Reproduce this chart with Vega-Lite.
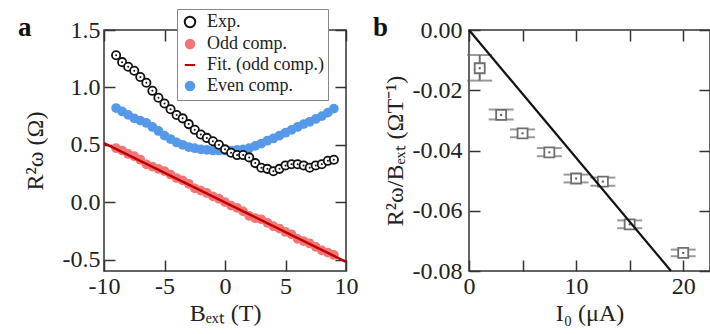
{
  "$schema": "https://vega.github.io/schema/vega-lite/v6.json",
  "padding": {"left": 17, "top": 8, "right": 0, "bottom": 0},
  "spacing": 123,
  "bounds": "flush",
  "config": {
    "view": {"stroke": "#333", "strokeWidth": 1.5},
    "axis": {"domain": false, "grid": false, "tickColor": "#333", "tickSize": -11, "tickWidth": 1.5,
      "labelFont": "Liberation Serif", "labelFontSize": 24, "labelColor": "#222", "labelPadding": 15,
      "titleFont": "Liberation Serif", "titleFontSize": 24, "titleFontWeight": "normal", "titleColor": "#222",
      "labelFlush": false, "labelOverlap": false}
  },
  "datasets": {
    "panelA": [
      {"B": -9, "series": "Exp.", "R": 1.28}, {"B": -8.5, "series": "Exp.", "R": 1.22}, {"B": -8, "series": "Exp.", "R": 1.18},
      {"B": -7.5, "series": "Exp.", "R": 1.145}, {"B": -7, "series": "Exp.", "R": 1.09}, {"B": -6.5, "series": "Exp.", "R": 1.04},
      {"B": -6, "series": "Exp.", "R": 0.97}, {"B": -5.5, "series": "Exp.", "R": 0.91}, {"B": -5, "series": "Exp.", "R": 0.86},
      {"B": -4.5, "series": "Exp.", "R": 0.81}, {"B": -4, "series": "Exp.", "R": 0.76}, {"B": -3.5, "series": "Exp.", "R": 0.73},
      {"B": -3, "series": "Exp.", "R": 0.68}, {"B": -2.5, "series": "Exp.", "R": 0.63}, {"B": -2, "series": "Exp.", "R": 0.59},
      {"B": -1.5, "series": "Exp.", "R": 0.56}, {"B": -1, "series": "Exp.", "R": 0.53}, {"B": -0.5, "series": "Exp.", "R": 0.5},
      {"B": 0, "series": "Exp.", "R": 0.46}, {"B": 0.5, "series": "Exp.", "R": 0.43}, {"B": 1, "series": "Exp.", "R": 0.41},
      {"B": 1.5, "series": "Exp.", "R": 0.41}, {"B": 2, "series": "Exp.", "R": 0.39}, {"B": 2.5, "series": "Exp.", "R": 0.34},
      {"B": 3, "series": "Exp.", "R": 0.3}, {"B": 3.5, "series": "Exp.", "R": 0.29}, {"B": 4, "series": "Exp.", "R": 0.27},
      {"B": 4.5, "series": "Exp.", "R": 0.29}, {"B": 5, "series": "Exp.", "R": 0.32}, {"B": 5.5, "series": "Exp.", "R": 0.33},
      {"B": 6, "series": "Exp.", "R": 0.33}, {"B": 6.5, "series": "Exp.", "R": 0.32}, {"B": 7, "series": "Exp.", "R": 0.3},
      {"B": 7.5, "series": "Exp.", "R": 0.32}, {"B": 8, "series": "Exp.", "R": 0.33}, {"B": 8.5, "series": "Exp.", "R": 0.36},
      {"B": 9, "series": "Exp.", "R": 0.37},
      {"B": -9, "series": "Even comp.", "R": 0.82}, {"B": -8.5, "series": "Even comp.", "R": 0.79}, {"B": -8, "series": "Even comp.", "R": 0.76},
      {"B": -7.5, "series": "Even comp.", "R": 0.73}, {"B": -7, "series": "Even comp.", "R": 0.71}, {"B": -6.5, "series": "Even comp.", "R": 0.69},
      {"B": -6, "series": "Even comp.", "R": 0.655}, {"B": -5.5, "series": "Even comp.", "R": 0.62}, {"B": -5, "series": "Even comp.", "R": 0.58},
      {"B": -4.5, "series": "Even comp.", "R": 0.55}, {"B": -4, "series": "Even comp.", "R": 0.52}, {"B": -3.5, "series": "Even comp.", "R": 0.5},
      {"B": -3, "series": "Even comp.", "R": 0.48}, {"B": -2.5, "series": "Even comp.", "R": 0.47}, {"B": -2, "series": "Even comp.", "R": 0.46},
      {"B": -1.5, "series": "Even comp.", "R": 0.455}, {"B": -1, "series": "Even comp.", "R": 0.45}, {"B": -0.5, "series": "Even comp.", "R": 0.45},
      {"B": 0, "series": "Even comp.", "R": 0.45}, {"B": 0.5, "series": "Even comp.", "R": 0.45}, {"B": 1, "series": "Even comp.", "R": 0.455},
      {"B": 1.5, "series": "Even comp.", "R": 0.46}, {"B": 2, "series": "Even comp.", "R": 0.47}, {"B": 2.5, "series": "Even comp.", "R": 0.49},
      {"B": 3, "series": "Even comp.", "R": 0.51}, {"B": 3.5, "series": "Even comp.", "R": 0.535}, {"B": 4, "series": "Even comp.", "R": 0.555},
      {"B": 4.5, "series": "Even comp.", "R": 0.58}, {"B": 5, "series": "Even comp.", "R": 0.605}, {"B": 5.5, "series": "Even comp.", "R": 0.63},
      {"B": 6, "series": "Even comp.", "R": 0.655}, {"B": 6.5, "series": "Even comp.", "R": 0.68}, {"B": 7, "series": "Even comp.", "R": 0.7},
      {"B": 7.5, "series": "Even comp.", "R": 0.725}, {"B": 8, "series": "Even comp.", "R": 0.75}, {"B": 8.5, "series": "Even comp.", "R": 0.78},
      {"B": 9, "series": "Even comp.", "R": 0.815},
      {"B": -9, "series": "Odd comp.", "R": 0.47}, {"B": -8.5, "series": "Odd comp.", "R": 0.45}, {"B": -8, "series": "Odd comp.", "R": 0.42},
      {"B": -7.5, "series": "Odd comp.", "R": 0.4}, {"B": -7, "series": "Odd comp.", "R": 0.37}, {"B": -6.5, "series": "Odd comp.", "R": 0.33},
      {"B": -6, "series": "Odd comp.", "R": 0.31}, {"B": -5.5, "series": "Odd comp.", "R": 0.29}, {"B": -5, "series": "Odd comp.", "R": 0.27},
      {"B": -4.5, "series": "Odd comp.", "R": 0.24}, {"B": -4, "series": "Odd comp.", "R": 0.21}, {"B": -3.5, "series": "Odd comp.", "R": 0.19},
      {"B": -3, "series": "Odd comp.", "R": 0.16}, {"B": -2.5, "series": "Odd comp.", "R": 0.12}, {"B": -2, "series": "Odd comp.", "R": 0.1},
      {"B": -1.5, "series": "Odd comp.", "R": 0.08}, {"B": -1, "series": "Odd comp.", "R": 0.05}, {"B": -0.5, "series": "Odd comp.", "R": 0.03},
      {"B": 0, "series": "Odd comp.", "R": 0.0}, {"B": 0.5, "series": "Odd comp.", "R": -0.03}, {"B": 1, "series": "Odd comp.", "R": -0.05},
      {"B": 1.5, "series": "Odd comp.", "R": -0.08}, {"B": 2, "series": "Odd comp.", "R": -0.12}, {"B": 2.5, "series": "Odd comp.", "R": -0.14},
      {"B": 3, "series": "Odd comp.", "R": -0.15}, {"B": 3.5, "series": "Odd comp.", "R": -0.18}, {"B": 4, "series": "Odd comp.", "R": -0.21},
      {"B": 4.5, "series": "Odd comp.", "R": -0.23}, {"B": 5, "series": "Odd comp.", "R": -0.26}, {"B": 5.5, "series": "Odd comp.", "R": -0.28},
      {"B": 6, "series": "Odd comp.", "R": -0.32}, {"B": 6.5, "series": "Odd comp.", "R": -0.34}, {"B": 7, "series": "Odd comp.", "R": -0.36},
      {"B": 7.5, "series": "Odd comp.", "R": -0.39}, {"B": 8, "series": "Odd comp.", "R": -0.42}, {"B": 8.5, "series": "Odd comp.", "R": -0.44},
      {"B": 9, "series": "Odd comp.", "R": -0.46}
    ],
    "fitA": [
      {"B": -10, "series": "Fit. (odd comp.)", "R": 0.515},
      {"B": 10, "series": "Fit. (odd comp.)", "R": -0.52}
    ],
    "panelB": [
      {"I": 1, "y": -0.0127, "lo": -0.0168, "hi": -0.0083},
      {"I": 3, "y": -0.0282, "lo": -0.0297, "hi": -0.0264},
      {"I": 5, "y": -0.0343, "lo": -0.0356, "hi": -0.033},
      {"I": 7.5, "y": -0.0406, "lo": -0.0419, "hi": -0.0392},
      {"I": 10, "y": -0.0493, "lo": -0.0506, "hi": -0.048},
      {"I": 12.5, "y": -0.0503, "lo": -0.0517, "hi": -0.049},
      {"I": 15, "y": -0.0645, "lo": -0.0658, "hi": -0.0632},
      {"I": 20, "y": -0.074, "lo": -0.0751, "hi": -0.0729}
    ],
    "fitB": [
      {"I": 0, "y": 0},
      {"I": 18.86, "y": -0.08}
    ]
  },
  "hconcat": [
    {
      "width": 242, "height": 241,
      "title": {"text": "a", "anchor": "start", "frame": "group", "dx": -86, "dy": 45, "offset": 0, "baseline": "alphabetic",
        "font": "Liberation Serif", "fontSize": 27, "fontWeight": "bold", "color": "#111"},
      "layer": [
        {
          "layer": [
            {
              "data": {"name": "panelA"},
              "transform": [{"filter": "datum.series === 'Odd comp.'"}],
              "mark": {"type": "point", "filled": true, "size": 95, "opacity": 1, "strokeWidth": 2},
              "encoding": {
                "x": {"field": "B", "type": "quantitative", "scale": {"domain": [-10, 10], "nice": false},
                  "axis": {"values": [-10, -5, 0, 5, 10], "labelExpr": "replace(datum.label, '−', '-')", "title": "Bₑₓₜ (T)", "titlePadding": 3, "labelPadding": 14}},
                "y": {"field": "R", "type": "quantitative", "scale": {"domain": [-0.6, 1.5], "nice": false, "zero": false},
                  "axis": {"values": [-0.5, 0, 0.5, 1, 1.5], "format": ".1f", "labelExpr": "replace(datum.label, '−', '-')", "title": "R²ω (Ω)", "titlePadding": 15}},
                "fill": {"field": "series", "type": "nominal",
                  "scale": {"domain": ["Exp.", "Odd comp.", "Fit. (odd comp.)", "Even comp."], "range": ["#ffffff", "#f27676", "transparent", "#5599e8"]},
                  "legend": {"orient": "none", "legendX": 73, "legendY": -21, "title": null,
                    "fillColor": "white", "strokeColor": "#888", "padding": 4,
                    "labelFont": "Liberation Serif", "labelFontSize": 18, "labelColor": "#222",
                    "symbolSize": 110, "symbolStrokeWidth": 2, "rowPadding": 2, "labelOffset": 8, "symbolOpacity": 1}},
                "stroke": {"field": "series", "type": "nominal",
                  "scale": {"domain": ["Exp.", "Odd comp.", "Fit. (odd comp.)", "Even comp."], "range": ["#111111", "transparent", "#c00000", "transparent"]},
                  "legend": {"orient": "none", "legendX": 73, "legendY": -21, "title": null,
                    "fillColor": "white", "strokeColor": "#888", "padding": 4,
                    "labelFont": "Liberation Serif", "labelFontSize": 18, "labelColor": "#222",
                    "symbolSize": 110, "symbolStrokeWidth": 2, "rowPadding": 2, "labelOffset": 8, "symbolOpacity": 1}},
                "shape": {"field": "series", "type": "nominal",
                  "scale": {"domain": ["Exp.", "Odd comp.", "Fit. (odd comp.)", "Even comp."], "range": ["circle", "circle", "stroke", "circle"]},
                  "legend": {"orient": "none", "legendX": 73, "legendY": -21, "title": null,
                    "fillColor": "white", "strokeColor": "#888", "padding": 4,
                    "labelFont": "Liberation Serif", "labelFontSize": 18, "labelColor": "#222",
                    "symbolSize": 110, "symbolStrokeWidth": 2, "rowPadding": 2, "labelOffset": 8, "symbolOpacity": 1}}
              }
            },
            {
              "data": {"name": "panelA"},
              "transform": [{"filter": "datum.series === 'Even comp.'"}],
              "mark": {"type": "point", "filled": true, "size": 95, "opacity": 1, "strokeWidth": 2},
              "encoding": {
                "x": {"field": "B", "type": "quantitative"},
                "y": {"field": "R", "type": "quantitative"},
                "fill": {"field": "series", "type": "nominal"},
                "stroke": {"field": "series", "type": "nominal"},
                "shape": {"field": "series", "type": "nominal"}
              }
            },
            {
              "data": {"name": "panelA"},
              "transform": [{"filter": "datum.series === 'Exp.'"}],
              "mark": {"type": "point", "filled": true, "size": 68, "strokeWidth": 1.8, "opacity": 1},
              "encoding": {
                "x": {"field": "B", "type": "quantitative"},
                "y": {"field": "R", "type": "quantitative"},
                "fill": {"field": "series", "type": "nominal"},
                "stroke": {"field": "series", "type": "nominal"},
                "shape": {"field": "series", "type": "nominal"}
              }
            },
            {
              "data": {"name": "panelA"},
              "transform": [{"filter": "datum.series === 'Exp.'"}],
              "mark": {"type": "point", "filled": true, "size": 4, "opacity": 1, "color": "#111111"},
              "encoding": {
                "x": {"field": "B", "type": "quantitative"},
                "y": {"field": "R", "type": "quantitative"}
              }
            }
          ]
        },
        {
          "data": {"name": "fitA"},
          "mark": {"type": "line", "strokeWidth": 2.5},
          "encoding": {
            "x": {"field": "B", "type": "quantitative", "scale": {"domain": [-10, 10], "nice": false},
              "axis": {"orient": "top", "values": [-10, -5, 0, 5, 10], "labels": false, "title": null}},
            "y": {"field": "R", "type": "quantitative", "scale": {"domain": [-0.6, 1.5], "nice": false, "zero": false},
              "axis": {"orient": "right", "values": [-0.5, 0, 0.5, 1, 1.5], "labels": false, "title": null}},
            "stroke": {"field": "series", "type": "nominal"}
          }
        }
      ],
      "resolve": {"axis": {"x": "independent", "y": "independent"}}
    },
    {
      "width": 241, "height": 241,
      "title": {"text": "b", "anchor": "start", "frame": "group", "dx": -96, "dy": 45, "offset": 0, "baseline": "alphabetic",
        "font": "Liberation Serif", "fontSize": 27, "fontWeight": "bold", "color": "#111"},
      "layer": [
        {
          "data": {"name": "panelB"},
          "layer": [
            {
              "mark": {"type": "rule", "color": "#6e6e6e", "strokeWidth": 2},
              "encoding": {
                "x": {"field": "I", "type": "quantitative", "scale": {"domain": [0, 22.5], "nice": false},
                  "axis": {"values": [0, 5, 10, 15, 20], "labelExpr": "datum.value % 10 === 0 ? datum.label : ''", "title": "I₀ (μA)", "titlePadding": 3, "labelPadding": 14}},
                "y": {"field": "lo", "type": "quantitative", "scale": {"domain": [-0.08, 0], "nice": false},
                  "axis": {"values": [-0.08, -0.06, -0.04, -0.02, 0], "format": ".2f", "labelExpr": "replace(datum.label, '−', '-')", "title": "R²ω/Bₑₓₜ (ΩT⁻¹)", "titlePadding": 5, "labelPadding": 18}},
                "y2": {"field": "hi"}
              }
            },
            {
              "mark": {"type": "tick", "orient": "horizontal", "color": "#6e6e6e", "size": 25, "thickness": 2},
              "encoding": {
                "x": {"field": "I", "type": "quantitative"},
                "y": {"field": "lo", "type": "quantitative"}
              }
            },
            {
              "mark": {"type": "tick", "orient": "horizontal", "color": "#6e6e6e", "size": 25, "thickness": 2},
              "encoding": {
                "x": {"field": "I", "type": "quantitative"},
                "y": {"field": "hi", "type": "quantitative"}
              }
            },
            {
              "mark": {"type": "point", "shape": "square", "filled": false, "fill": "white", "fillOpacity": 1, "stroke": "#6e6e6e", "strokeWidth": 1.8, "size": 100, "opacity": 1},
              "encoding": {
                "x": {"field": "I", "type": "quantitative"},
                "y": {"field": "y", "type": "quantitative"}
              }
            },
            {
              "mark": {"type": "point", "shape": "square", "filled": true, "color": "#555", "size": 4, "opacity": 1},
              "encoding": {
                "x": {"field": "I", "type": "quantitative"},
                "y": {"field": "y", "type": "quantitative"}
              }
            }
          ]
        },
        {
          "data": {"name": "fitB"},
          "mark": {"type": "line", "color": "#111", "strokeWidth": 2.2},
          "encoding": {
            "x": {"field": "I", "type": "quantitative", "scale": {"domain": [0, 22.5], "nice": false},
              "axis": {"orient": "top", "values": [0, 5, 10, 15, 20], "labels": false, "title": null}},
            "y": {"field": "y", "type": "quantitative", "scale": {"domain": [-0.08, 0], "nice": false},
              "axis": {"orient": "right", "values": [-0.08, -0.06, -0.04, -0.02, 0], "labels": false, "title": null}}
          }
        }
      ],
      "resolve": {"axis": {"x": "independent", "y": "independent"}}
    }
  ]
}
